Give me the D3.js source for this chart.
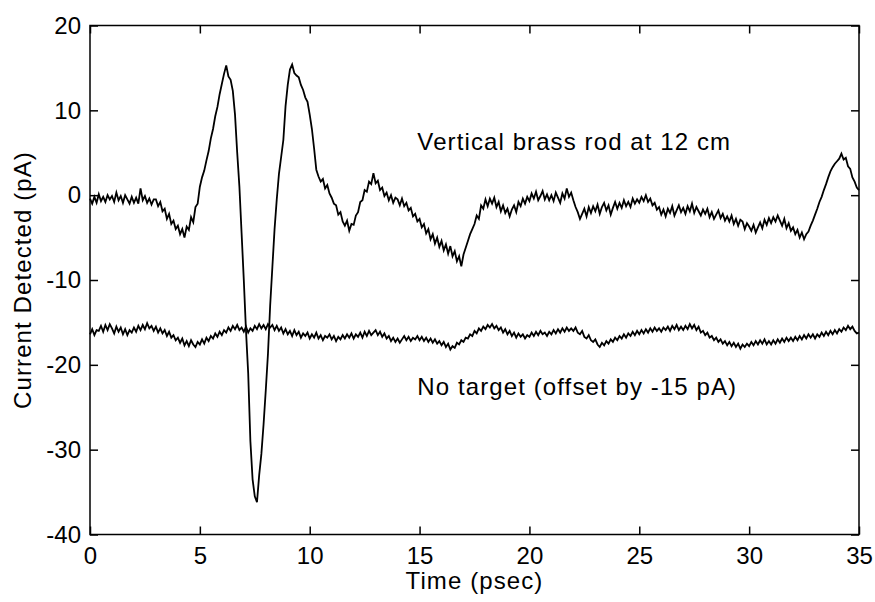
<!DOCTYPE html>
<html>
<head>
<meta charset="utf-8">
<script src="https://cdn.jsdelivr.net/npm/d3@7"></script>
<style>
  body { margin: 0; background: #fff; }
  svg { display: block; }
  .axis text { font-family: "Liberation Sans", Arial, sans-serif; font-size: 24px; fill: #000; }
  .axis line { stroke: #000; stroke-width: 1.5; }
  .axis path { display: none; }
  .label { font-family: "Liberation Sans", Arial, sans-serif; font-size: 24px; letter-spacing: 1.1px; fill: #000; }
  .trace { fill: none; stroke: #000; stroke-width: 1.8; stroke-linejoin: miter; }
</style>
</head>
<body>
<script>
// time axis sampled every 0.1 psec, 0 .. 35
const sampleStep = 0.1;

// Vertical brass rod at 12 cm (pA), one row per psec
const brassRod = [
  -0.4, -1.0, -0.2, -0.9, 0.1, -0.7, -0.2, -0.8, 0.0, -0.5,
  -0.1, -0.8, 0.3, -0.6, -0.1, -0.9, 0.0, -0.5, -1.0, -0.2,
  -0.9, -0.3, -1.0, 0.8, -0.6, -0.1, -0.9, -0.4, -1.1, -0.5,
  -0.5, -1.3, -0.8, -1.9, -1.6, -2.8, -2.2, -3.4, -3.0, -4.0,
  -3.6, -4.6, -4.0, -5.0, -3.7, -4.1, -2.6, -3.2, -1.4, -1.0,
  1.0, 2.1, 2.9, 4.1, 5.2, 6.7, 7.8, 9.3, 10.4, 11.9,
  13.1, 14.3, 15.3, 14.0, 13.6, 12.3, 9.5, 5.0, 1.0, -4.5,
  -10, -16, -21, -29, -33.5, -35.5, -36.2, -33, -30.5, -27,
  -23, -18.7, -13, -8.5, -4, -0.5, 2.5, 4.5, 6.5, 10.5,
  13, 14.8, 15.4, 14.4, 14.1, 13.9, 13.0, 12.4, 11.5, 11.0,
  9.5, 7.8, 5.5, 3.0, 2.2, 1.6, 1.9, 0.8, 1.2, 0.2,
  -0.3, -1.0, -1.2, -2.3, -2.0, -3.1, -3.6, -3.0, -4.2, -3.4,
  -3.5, -2.4, -2.0, -0.8, -0.6, 0.6, 0.4, 1.6, 1.3, 2.6,
  1.4, 1.7, 0.6, 0.9, -0.1, 0.3, -0.6, 0.0, -0.9, -0.3,
  -0.5, -1.2, -0.4, -1.3, -0.9, -1.8, -1.5, -2.5, -2.2, -3.1,
  -2.8, -3.8, -3.4, -4.5, -4.0, -5.2, -4.6, -5.7, -5.0, -6.1,
  -5.4, -6.5, -5.8, -6.9, -6.0, -7.2, -6.6, -7.8, -7.2, -8.4,
  -7.0, -6.2, -5.4, -4.6, -4.0, -3.4, -2.4, -2.8, -1.2, -1.6,
  -0.5, -1.3, -0.4, -1.0, -0.3, -1.4, -0.8, -1.9, -1.2, -2.1,
  -1.6, -2.5, -1.7, -1.2, -2.0, -0.8, -1.3, -0.4, -1.0, -0.2,
  -0.7, 0.2, -0.4, 0.4, -0.6, -0.1, 0.5, -0.5, 0.1, -0.6,
  0.0, -0.7, 0.3, -0.3, -0.9, 0.2, -0.4, 0.8, -0.2, 0.3,
  -0.6, -1.4, -2.0, -2.8, -2.2, -1.6, -2.5, -1.4, -2.1, -1.3,
  -1.9, -1.1, -2.2, -1.4, -0.9, -1.8, -1.2, -2.3, -1.5, -0.8,
  -1.6, -0.9, -1.5, -0.6, -1.3, -0.8, -1.4, -0.4, -1.0, -0.5,
  -0.9, -0.2, -0.7, 0.0, -0.8, -0.4, -1.2, -0.9, -1.7, -1.4,
  -2.3, -1.7, -2.5, -1.6, -2.1, -1.3, -2.4, -1.8, -1.2, -2.0,
  -1.5, -2.2, -1.3, -1.9, -1.0, -2.1, -1.4, -1.9, -2.4, -1.7,
  -2.2, -1.6, -2.6, -2.0, -2.8, -2.3, -1.8, -2.7, -2.2, -3.0,
  -2.5, -3.1, -2.4, -3.4, -2.8, -3.6, -2.9, -3.1, -4.0, -3.3,
  -3.7, -4.2, -3.5, -4.4, -3.8, -3.2, -3.9, -2.9, -3.5, -2.7,
  -3.3, -2.6, -3.1, -2.4, -3.0, -3.6, -2.8, -3.9, -3.3, -4.2,
  -3.8, -4.6, -4.1, -5.0, -4.4, -5.2, -4.6, -4.3, -3.6, -3.0,
  -2.3, -1.6, -0.8, -0.2, 0.6, 1.3, 2.1, 2.8, 3.3, 3.7,
  4.0, 4.3, 4.9, 4.2, 4.4, 3.4, 3.1, 2.1, 1.6, 0.9,
  0.6
];

// No target, already offset by -15 pA
const noTarget = [
  -16.4, -15.8, -16.5, -15.9, -16.0, -15.4, -16.1, -15.3, -15.9, -15.2,
  -15.7, -16.3, -15.5, -16.1, -15.6, -16.4, -15.8, -16.5, -15.9, -16.2,
  -15.6, -16.1, -15.4, -15.9, -15.3, -15.8, -15.1, -15.7, -15.4, -16.0,
  -15.5, -16.2, -15.7, -16.3, -15.9, -16.6, -16.1, -16.8, -16.5, -17.1,
  -16.8, -17.4, -16.9, -17.7, -17.2, -17.8, -17.1, -17.6, -17.9, -17.3,
  -17.6, -17.0, -17.5, -16.8, -17.2, -16.6, -16.9, -16.3, -16.7, -16.1,
  -16.5, -15.9, -16.2, -15.6, -16.0, -15.4, -15.8, -15.3, -15.9, -15.6,
  -16.1, -15.5, -16.2, -15.7, -16.0, -15.4, -15.8, -15.2, -15.7, -15.3,
  -15.8, -15.2, -15.6, -15.3, -15.9, -15.4, -16.0, -15.6, -16.3, -15.8,
  -16.4, -16.0, -16.6, -15.9, -16.5, -16.1, -16.8, -16.3, -16.6, -16.2,
  -16.9, -16.4, -16.8, -16.2, -16.9, -16.5, -17.1, -16.6, -16.8, -16.4,
  -17.0, -16.6, -17.2, -16.7, -17.0, -16.5, -16.9, -16.4, -16.8, -16.3,
  -16.9, -16.4, -16.7, -16.2, -16.8, -16.1, -16.6, -16.0, -16.5, -16.2,
  -15.9, -16.5, -16.1, -16.7, -16.3, -16.9, -16.6, -17.2, -16.8, -17.3,
  -16.9, -17.4, -17.0, -16.6, -17.1, -16.7, -17.2, -16.8, -17.0, -16.6,
  -17.1, -16.7, -17.2, -16.8, -17.3, -16.9, -17.4, -17.0, -17.5, -17.2,
  -17.7, -17.3, -17.9, -17.5, -18.2, -17.8, -18.0, -17.4, -17.6, -17.1,
  -17.3, -16.8, -16.9, -16.4, -16.6, -16.0, -16.3, -15.7, -16.0, -15.5,
  -15.8, -15.3, -15.6, -15.2, -15.7, -15.4, -15.9, -15.6, -16.2, -15.8,
  -16.4, -16.0, -16.6, -16.2, -16.8, -16.3, -16.7, -16.4, -16.9, -16.5,
  -16.7, -16.2, -16.6, -16.1, -16.5, -16.0, -16.4, -16.2, -16.6, -16.1,
  -16.4, -15.9, -16.3, -15.8, -16.2, -15.7, -16.1, -15.6, -16.0, -15.7,
  -16.0, -15.6, -16.2, -16.4, -16.0, -16.7, -16.9, -16.5, -17.1, -17.3,
  -17.0, -17.6, -17.9, -17.4, -17.7, -17.2, -17.5, -17.0, -17.3, -16.8,
  -17.1, -16.6, -16.9, -16.4, -16.8, -16.3, -16.6, -16.1, -16.5, -16.0,
  -16.4, -15.9, -16.3, -15.8, -16.2, -15.7, -16.1, -15.6, -16.0, -15.7,
  -16.1, -15.6, -15.9, -15.5, -16.0, -15.4, -15.8, -15.3, -15.9, -15.5,
  -15.9, -15.4, -15.8, -15.2, -15.7, -15.3, -15.9, -15.5, -16.2, -16.0,
  -16.5, -16.2, -16.8, -16.6, -17.1, -16.8, -17.3, -17.0, -17.5, -17.2,
  -17.7, -17.3, -17.8, -17.4, -17.9, -17.5, -18.1, -17.6, -17.9, -17.5,
  -17.8, -17.3, -17.7, -17.2, -17.6, -17.1, -17.5, -17.0, -17.6, -17.2,
  -17.6, -17.1, -17.5, -17.0, -17.4, -16.9, -17.3, -16.8, -17.2, -16.8,
  -17.2, -16.7, -17.1, -16.6, -17.0, -16.5, -16.9, -16.4, -16.8, -16.4,
  -16.9, -16.4, -16.7, -16.2, -16.6, -16.1, -16.5, -16.0, -16.4, -15.9,
  -16.3, -15.8, -16.1, -15.6, -15.9, -15.4, -15.8, -15.5, -16.0, -16.3,
  -16.2
];

const xTicks = [0, 5, 10, 15, 20, 25, 30, 35];
const yTicks = [-40, -30, -20, -10, 0, 10, 20];

const width = 875, height = 602;
const plotLeft = 90, plotRight = 859, plotTop = 25.5, plotBottom = 534.5;

const x = d3.scaleLinear().domain([0, 35]).range([plotLeft, plotRight]);
const y = d3.scaleLinear().domain([-40, 20]).range([plotBottom, plotTop]);

// plain hyphen for negatives, like the original figure
const fmt = d => String(d);

const svg = d3.select('body').append('svg')
  .attr('width', width)
  .attr('height', height);

// ticks on all four sides, pointing inward
svg.append('g').attr('class', 'axis')
  .attr('transform', `translate(0,${plotBottom})`)
  .call(d3.axisBottom(x).tickValues(xTicks).tickSize(-8).tickSizeOuter(0).tickPadding(12).tickFormat(fmt));

svg.append('g').attr('class', 'axis')
  .attr('transform', `translate(0,${plotTop})`)
  .call(d3.axisTop(x).tickValues(xTicks).tickSize(-8).tickSizeOuter(0).tickFormat(''));

svg.append('g').attr('class', 'axis')
  .attr('transform', `translate(${plotLeft},0)`)
  .call(d3.axisLeft(y).tickValues(yTicks).tickSize(-8).tickSizeOuter(0).tickPadding(9).tickFormat(fmt));

svg.append('g').attr('class', 'axis')
  .attr('transform', `translate(${plotRight},0)`)
  .call(d3.axisRight(y).tickValues(yTicks).tickSize(-8).tickSizeOuter(0).tickFormat(''));

const line = d3.line()
  .x((d, i) => x(i * sampleStep))
  .y(d => y(d));

svg.append('path').attr('class', 'trace').attr('d', line(noTarget));
svg.append('path').attr('class', 'trace').attr('d', line(brassRod));

// box
svg.append('rect')
  .attr('x', plotLeft).attr('y', plotTop)
  .attr('width', plotRight - plotLeft).attr('height', plotBottom - plotTop)
  .attr('fill', 'none').attr('stroke', '#000').attr('stroke-width', 1.5);

svg.append('text').attr('class', 'label')
  .attr('x', (plotLeft + plotRight) / 2).attr('y', 589)
  .attr('text-anchor', 'middle')
  .text('Time (psec)');

svg.append('text').attr('class', 'label')
  .attr('transform', `translate(31,${(plotTop + plotBottom) / 2}) rotate(-90)`)
  .attr('text-anchor', 'middle')
  .text('Current Detected (pA)');

svg.append('text').attr('class', 'label')
  .attr('x', x(14.9)).attr('y', 150)
  .text('Vertical brass rod at 12 cm');

svg.append('text').attr('class', 'label')
  .attr('x', x(14.9)).attr('y', 395)
  .text('No target (offset by -15 pA)');
</script>
</body>
</html>
